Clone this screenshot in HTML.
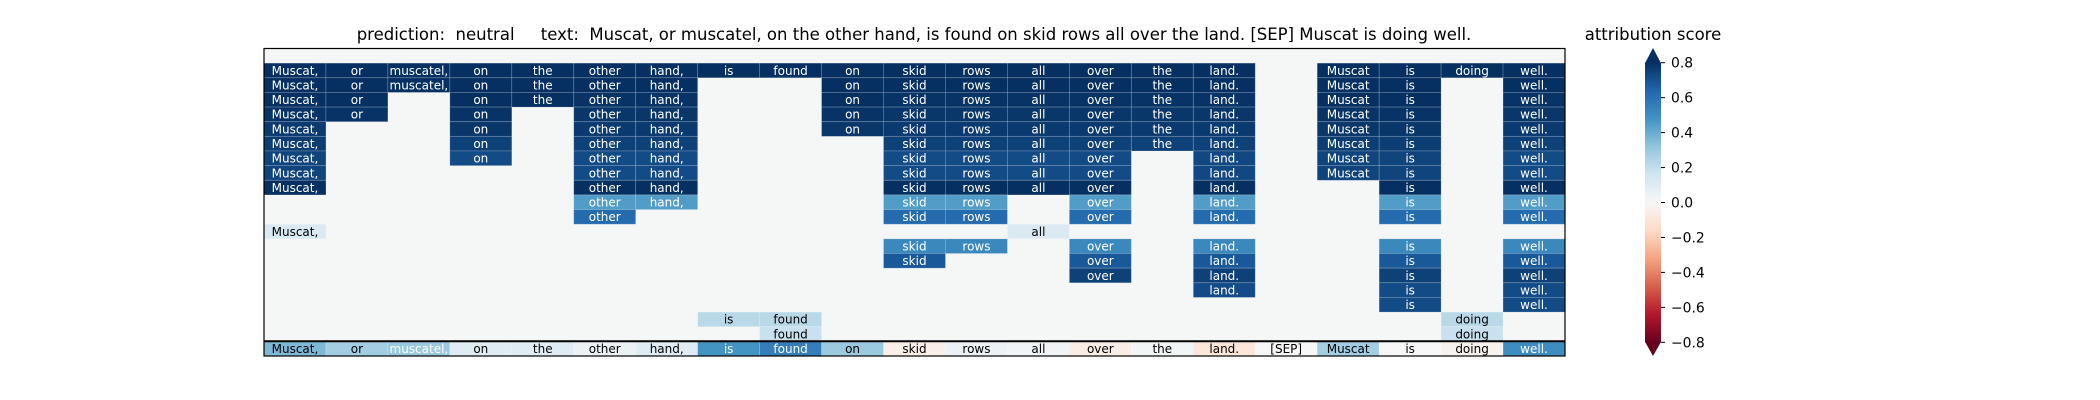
<!DOCTYPE html>
<html><head><meta charset="utf-8"><style>
html,body{margin:0;padding:0;background:#fff;}
svg{display:block;font-family:"DejaVu Sans","Liberation Sans",sans-serif;}
</style></head><body>
<svg id="chart" width="2100" height="400" viewBox="0 0 2100 400" xmlns="http://www.w3.org/2000/svg">
<defs>
<linearGradient id="rdbu" x1="0" y1="1" x2="0" y2="0">
<stop offset="0" stop-color="#67001f"/><stop offset="0.1" stop-color="#b2182b"/><stop offset="0.2" stop-color="#d6604d"/><stop offset="0.3" stop-color="#f4a582"/><stop offset="0.4" stop-color="#fddbc7"/><stop offset="0.5" stop-color="#f7f7f7"/><stop offset="0.6" stop-color="#d1e5f0"/><stop offset="0.7" stop-color="#92c5de"/><stop offset="0.8" stop-color="#4393c3"/><stop offset="0.9" stop-color="#2166ac"/><stop offset="1" stop-color="#053061"/>
</linearGradient>
</defs>
<text x="914" y="40" font-size="16.5" text-anchor="middle" xml:space="preserve" fill="#000">prediction:  neutral     text:  Muscat, or muscatel, on the other hand, is found on skid rows all over the land. [SEP] Muscat is doing well.</text>
<g id="cells"></g>
<line x1="264" x2="1565" y1="341.3" y2="341.3" stroke="#000" stroke-width="2"/>
<rect x="264" y="48.5" width="1301" height="307.5" fill="none" stroke="#000" stroke-width="1.2"/>
<text x="1653" y="40" font-size="16.5" text-anchor="middle" fill="#000">attribution score</text>
<g id="cbar"></g>
</svg>
<script>
const tokens = ["Muscat,","or","muscatel,","on","the","other","hand,","is","found","on","skid","rows","all","over","the","land.","[SEP]","Muscat","is","doing","well."];
const n = null;
const values = [
[n,n,n,n,n,n,n,n,n,n,n,n,n,n,n,n,n,n,n,n,n],
[.85,.85,.85,.85,.85,.84,.84,.85,.85,.85,.85,.85,.85,.85,.85,.85,n,.84,.85,.85,.84],
[.84,.84,.84,.84,.84,.82,.82,n,n,.84,.84,.84,.84,.84,.84,.84,n,.83,.84,n,.82],
[.80,.80,n,.80,.80,.79,.79,n,n,.80,.79,.79,.79,.79,.79,.79,n,.80,.80,n,.79],
[.79,.79,n,.79,n,.78,.78,n,n,.79,.78,.78,.78,.78,.78,.78,n,.79,.79,n,.78],
[.77,n,n,.78,n,.77,.77,n,n,.78,.77,.77,.77,.77,.77,.77,n,.78,.78,n,.77],
[.76,n,n,.75,n,.75,.75,n,n,n,.75,.75,.75,.75,.75,.75,n,.76,.76,n,.75],
[.74,n,n,.72,n,.72,.72,n,n,n,.72,.72,.72,.72,n,.73,n,.74,.74,n,.72],
[.74,n,n,n,n,.72,.72,n,n,n,.72,.72,.72,.72,n,.73,n,.74,.74,n,.72],
[.86,n,n,n,n,.86,.86,n,n,n,.86,.86,.86,.86,n,.86,n,n,.86,n,.86],
[n,n,n,n,n,.45,.45,n,n,n,.45,.45,n,.45,n,.45,n,n,.45,n,.45],
[n,n,n,n,n,.62,n,n,n,n,.62,.62,n,.62,n,.62,n,n,.62,n,.62],
[.12,n,n,n,n,n,n,n,n,n,n,n,.12,n,n,n,n,n,n,n,n],
[n,n,n,n,n,n,n,n,n,n,.52,.52,n,.52,n,.52,n,n,.52,n,.52],
[n,n,n,n,n,n,n,n,n,n,.68,n,n,.68,n,.68,n,n,.68,n,.68],
[n,n,n,n,n,n,n,n,n,n,n,n,n,.75,n,.75,n,n,.75,n,.75],
[n,n,n,n,n,n,n,n,n,n,n,n,n,n,n,.72,n,n,.72,n,.72],
[n,n,n,n,n,n,n,n,n,n,n,n,n,n,n,n,n,n,.72,n,.72],
[n,n,n,n,n,n,n,.22,.22,n,n,n,n,n,n,n,n,n,n,.22,n],
[n,n,n,n,n,n,n,n,.18,n,n,n,n,n,n,n,n,n,n,.18,n],
[.36,.28,.30,.10,.10,.05,.10,.48,.55,.30,-.05,.05,.03,-.06,.02,-.10,0,.28,0,-.03,.50]
];
const cbarTicks = [0.8,0.6,0.4,0.2,0.0,-0.2,-0.4,-0.6,-0.8];
const vmin = -0.8, vmax = 0.8;

const stops = ["#67001f","#b2182b","#d6604d","#f4a582","#fddbc7","#f7f7f7","#d1e5f0","#92c5de","#4393c3","#2166ac","#053061"];
function hex(h){return [parseInt(h.substr(1,2),16),parseInt(h.substr(3,2),16),parseInt(h.substr(5,2),16)];}
function cmap(v){
  let t=(v-vmin)/(vmax-vmin); t=Math.max(0,Math.min(1,t));
  const p=t*10, i=Math.min(9,Math.floor(p)), f=p-i;
  const a=hex(stops[i]), b=hex(stops[i+1]);
  return "rgb("+a.map((x,k)=>Math.round(x+(b[k]-x)*f)).join(",")+")";
}
const X0=264, W=1301, Y0=48.5, H=307.5;
const nCols=tokens.length, nRows=values.length;
const cw=W/nCols, rh=H/nRows;
const xPos=c=>X0+c*cw, yPos=r=>Y0+r*rh;
const NS="http://www.w3.org/2000/svg";
const g=document.getElementById("cells");
const bg=document.createElementNS(NS,"rect");


bg.setAttribute("x",X0);bg.setAttribute("y",Y0);bg.setAttribute("width",W);bg.setAttribute("height",H);bg.setAttribute("fill","#f5f6f6");
g.appendChild(bg);
for(let r=0;r<nRows;r++){for(let c=0;c<nCols;c++){
  const v=values[r][c]; if(v===null) continue;
  const rect=document.createElementNS(NS,"rect");
  
  
  rect.setAttribute("x",xPos(c));rect.setAttribute("y",yPos(r));rect.setAttribute("width",cw);rect.setAttribute("height",rh);
  rect.setAttribute("fill",cmap(v));rect.setAttribute("stroke","rgba(255,255,255,0.22)");rect.setAttribute("stroke-width","0.8");
  g.appendChild(rect);
  const t=document.createElementNS(NS,"text");
  
  
  t.setAttribute("x",xPos(c)+cw/2);t.setAttribute("y",yPos(r)+rh/2+4.3);
  t.setAttribute("text-anchor","middle");t.setAttribute("font-size","12");
  const white = Math.abs(v)>=0.4 || (r===nRows-1 && c===2);
  t.setAttribute("fill",white?"#fff":"#000");
  t.textContent=tokens[c];
  g.appendChild(t);
}}
const cb=document.getElementById("cbar");
const CX=1645, CW=16, CT=62.7, CB=342.3;
const cy=v=>CB-(v-vmin)/(vmax-vmin)*(CB-CT);
const body=document.createElementNS(NS,"rect");


body.setAttribute("x",CX);body.setAttribute("y",CT);body.setAttribute("width",CW);body.setAttribute("height",CB-CT);body.setAttribute("fill","url(#rdbu)");
cb.appendChild(body);
const up=document.createElementNS(NS,"polygon");


up.setAttribute("points",`${CX},${CT+0.5} ${CX+CW},${CT+0.5} ${CX+CW/2},48`);up.setAttribute("fill",cmap(vmax));
cb.appendChild(up);
const dn=document.createElementNS(NS,"polygon");


dn.setAttribute("points",`${CX},${CB-0.5} ${CX+CW},${CB-0.5} ${CX+CW/2},356`);dn.setAttribute("fill",cmap(vmin));
cb.appendChild(dn);
cbarTicks.forEach(v=>{
  const y=cy(v);
  const l=document.createElementNS(NS,"line");
  
  
  l.setAttribute("x1",CX+CW);l.setAttribute("x2",CX+CW+4);l.setAttribute("y1",y);l.setAttribute("y2",y);l.setAttribute("stroke","#000");l.setAttribute("stroke-width","1");
  cb.appendChild(l);
  const t=document.createElementNS(NS,"text");
  
  
  t.setAttribute("x",CX+CW+10);t.setAttribute("y",y+5);t.setAttribute("font-size","13.9");
  t.textContent=(v<0?"\u2212":"")+Math.abs(v).toFixed(1);
  cb.appendChild(t);
});
</script>
</body></html>
